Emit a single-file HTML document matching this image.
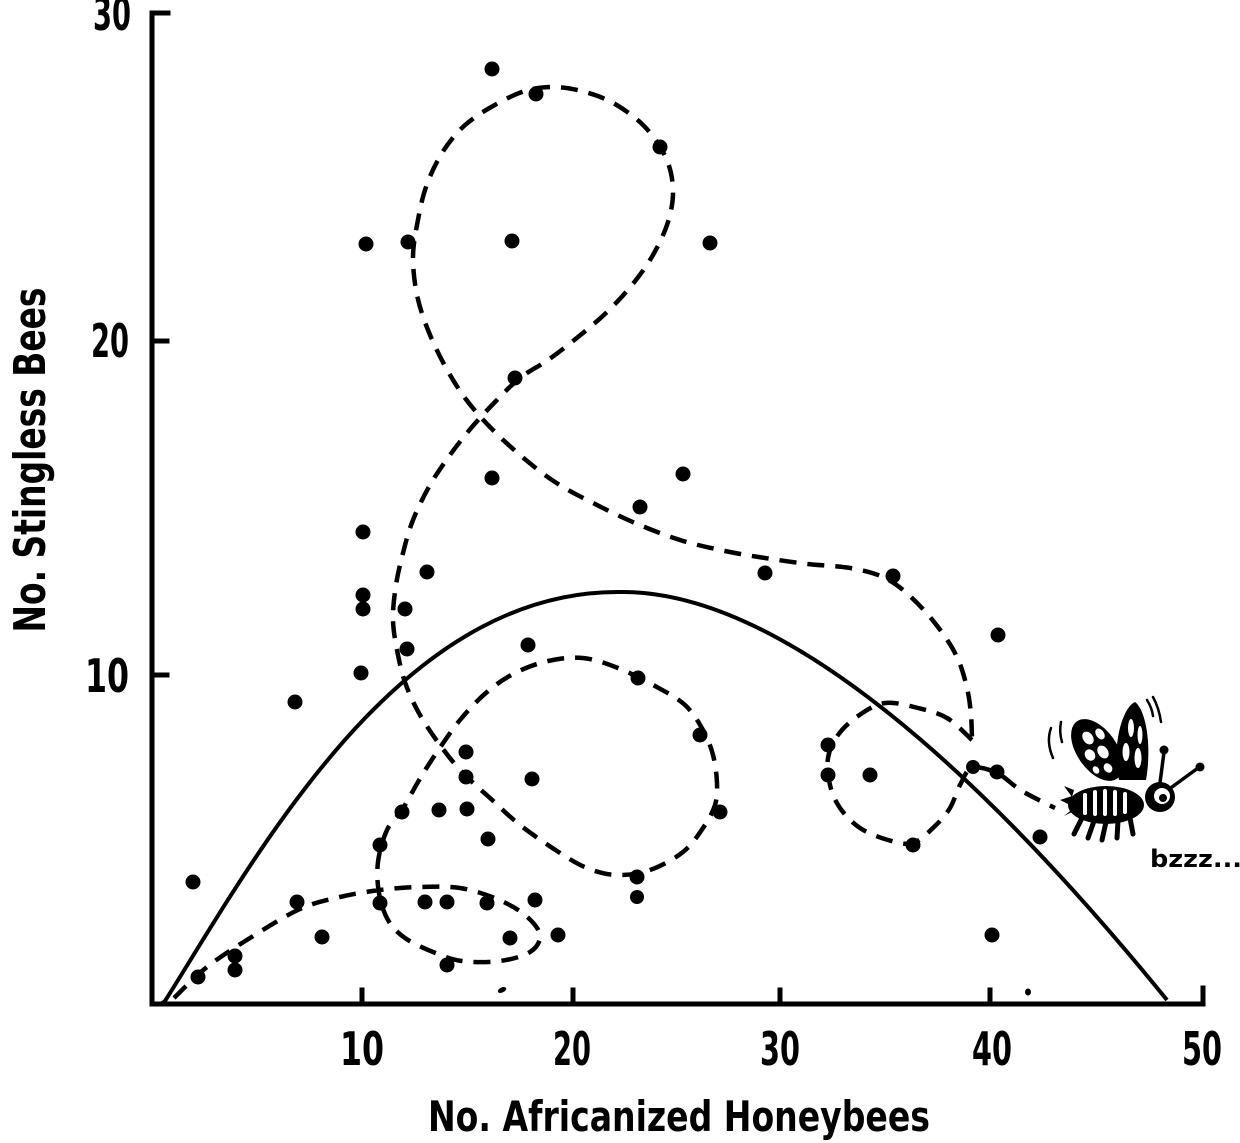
<!DOCTYPE html>
<html>
<head>
<meta charset="utf-8">
<style>
  html,body{margin:0;padding:0;background:#fff;}
  svg{display:block;}
  .lbl{font-family:"DejaVu Sans Condensed","DejaVu Sans","Liberation Sans",sans-serif;font-weight:bold;fill:#000;}
</style>
</head>
<body>
<svg id="chart" width="1240" height="1143" viewBox="0 0 1240 1143" xmlns="http://www.w3.org/2000/svg">
  <rect width="1240" height="1143" fill="#fff"/>

  <g stroke="#000" stroke-width="5" fill="none" stroke-linecap="square">
    <path d="M168,13 L152,13 L152,1004 L1203,1004 L1203,988"/>
    <path d="M152,341 L167,341"/>
    <path d="M152,675 L167,675"/>
    <path d="M362,1004 L362,990"/>
    <path d="M573,1004 L573,990"/>
    <path d="M780,1004 L780,990"/>
    <path d="M990,1004 L990,990"/>
  </g>

  <g class="lbl" font-size="46">
    <text x="131" y="30" text-anchor="end" textLength="38" lengthAdjust="spacingAndGlyphs">30</text>
    <text x="129" y="357" text-anchor="end" textLength="38" lengthAdjust="spacingAndGlyphs">20</text>
    <text x="129" y="692" text-anchor="end" textLength="44" lengthAdjust="spacingAndGlyphs">10</text>
    <text x="362" y="1065" text-anchor="middle" textLength="44" lengthAdjust="spacingAndGlyphs">10</text>
    <text x="572" y="1065" text-anchor="middle" textLength="38" lengthAdjust="spacingAndGlyphs">20</text>
    <text x="780" y="1065" text-anchor="middle" textLength="40" lengthAdjust="spacingAndGlyphs">30</text>
    <text x="992" y="1065" text-anchor="middle" textLength="40" lengthAdjust="spacingAndGlyphs">40</text>
    <text x="1202" y="1065" text-anchor="middle" textLength="40" lengthAdjust="spacingAndGlyphs">50</text>
  </g>

  <text class="lbl" font-size="42" x="679" y="1131" text-anchor="middle" textLength="502" lengthAdjust="spacingAndGlyphs">No. Africanized Honeybees</text>
  <text class="lbl" font-size="44" transform="translate(45,460) rotate(-90)" x="0" y="0" text-anchor="middle" textLength="345" lengthAdjust="spacingAndGlyphs">No. Stingless Bees</text>

  <path fill="none" stroke="#000" stroke-width="4" stroke-linejoin="round"
    d="M158,1004 C161,1004 163,1003 165,1001 C260,850 400,590 620,592 C780,590 980,770 1167,1000"/>

  <g fill="none" stroke="#000" stroke-width="4.5" stroke-dasharray="17 11">
    <path class="smooth"
      d="M174,998 L207,967 L250,938 L300,909 L340,897 L380,890 L420,887 L460,888 L497,899 L525,915 L540,935 L530,952 L500,961 L462,961 L433,952 L405,938 L388,920 L379,893 L378,862 L387,830 L402,810 L418,782 L435,755 L460,720 L487,692 L515,673 L548,661 L583,658 L618,668 L655,686 L685,705 L703,730 L713,755 L717,783 L715,805 L703,828 L683,852 L650,870 L617,875 L587,868 L557,851 L520,825 L490,798 L462,772 L440,745 L420,715 L406,685 L398,655 L393,620 L396,585 L403,553 L413,520 L430,485 L450,455 L472,427 L495,402 L520,378 L548,360 L578,337 L607,312 L632,285 L653,255 L668,222 L673,190 L666,158 L645,127 L615,104 L585,92 L555,87 L525,91 L493,106 L464,126 L442,153 L426,187 L417,225 L413,258 L417,295 L428,330 L445,366 L465,398 L490,427 L520,455 L555,482 L593,503 L635,523 L680,540 L725,551 L765,558 L808,564 L850,568 L885,578 L912,598 L938,627 L957,657 L967,688 L971,715 L972,740"/>
    <path class="smooth"
      d="M972,740 L947,718 L918,708 L885,703 L858,716 L838,735 L828,758 L830,785 L840,808 L860,828 L888,840 L913,843 L935,826 L950,808 L960,785 L972,768 L997,773 L1022,791 L1055,808"/>
  </g>

  <g fill="#000">
    <circle cx="492" cy="69" r="7.5"/>
    <circle cx="536" cy="94" r="7.5"/>
    <circle cx="660" cy="147" r="7.5"/>
    <circle cx="366" cy="244" r="7.5"/>
    <circle cx="408" cy="242" r="7.5"/>
    <circle cx="512" cy="241" r="7.5"/>
    <circle cx="710" cy="243" r="7.5"/>
    <circle cx="515" cy="378" r="7.5"/>
    <circle cx="492" cy="478" r="7.5"/>
    <circle cx="683" cy="474" r="7.5"/>
    <circle cx="640" cy="507" r="7.5"/>
    <circle cx="363" cy="532" r="7.5"/>
    <circle cx="427" cy="572" r="7.5"/>
    <circle cx="363" cy="595" r="7.5"/>
    <circle cx="363" cy="609" r="7.5"/>
    <circle cx="405" cy="609" r="7.5"/>
    <circle cx="407" cy="649" r="7.5"/>
    <circle cx="361" cy="673" r="7.5"/>
    <circle cx="295" cy="702" r="7.5"/>
    <circle cx="528" cy="645" r="7.5"/>
    <circle cx="638" cy="678" r="7.5"/>
    <circle cx="765" cy="573" r="7.5"/>
    <circle cx="893" cy="576" r="7.5"/>
    <circle cx="998" cy="635" r="7.5"/>
    <circle cx="700" cy="735" r="7.5"/>
    <circle cx="828" cy="745" r="7.5"/>
    <circle cx="828" cy="775" r="7.5"/>
    <circle cx="870" cy="775" r="7.5"/>
    <circle cx="466" cy="752" r="7.5"/>
    <circle cx="466" cy="777" r="7.5"/>
    <circle cx="532" cy="779" r="7.5"/>
    <circle cx="720" cy="812" r="7.5"/>
    <circle cx="402" cy="812" r="7.5"/>
    <circle cx="439" cy="810" r="7.5"/>
    <circle cx="467" cy="809" r="7.5"/>
    <circle cx="488" cy="839" r="7.5"/>
    <circle cx="380" cy="845" r="7.5"/>
    <circle cx="913" cy="845" r="7.5"/>
    <circle cx="973" cy="767" r="7"/>
    <circle cx="997" cy="772" r="7.5"/>
    <circle cx="1040" cy="837" r="7.5"/>
    <circle cx="637" cy="877" r="7.5"/>
    <circle cx="637" cy="897" r="7"/>
    <circle cx="193" cy="882" r="7.5"/>
    <circle cx="297" cy="902" r="7.5"/>
    <circle cx="380" cy="903" r="7.5"/>
    <circle cx="425" cy="902" r="7.5"/>
    <circle cx="447" cy="902" r="7.5"/>
    <circle cx="487" cy="903" r="7.5"/>
    <circle cx="535" cy="900" r="7.5"/>
    <circle cx="322" cy="937" r="7.5"/>
    <circle cx="510" cy="938" r="7.5"/>
    <circle cx="558" cy="935" r="7.5"/>
    <circle cx="235" cy="956" r="7.5"/>
    <circle cx="235" cy="970" r="7.5"/>
    <circle cx="447" cy="965" r="7.5"/>
    <circle cx="198" cy="977" r="7.5"/>
    <circle cx="992" cy="935" r="7.5"/>
    <ellipse cx="502" cy="990" rx="4.5" ry="2.5" transform="rotate(-25 502 990)"/>
    <ellipse cx="1028" cy="992" rx="3" ry="3.5"/>
  </g>

  <g>
    <g fill="none" stroke="#000" stroke-width="2.5" stroke-linecap="round">
      <path d="M1051,728 Q1046,742 1053,758"/>
      <path d="M1061,722 Q1059,732 1062,742"/>
      <path d="M1153,697 Q1159,708 1161,722"/>
      <path d="M1147,700 Q1152,708 1153,716"/>
    </g>
    <ellipse cx="1097" cy="750" rx="20" ry="35" transform="rotate(-35 1097 750)" fill="#000"/>
    <g fill="#fff">
      <ellipse cx="1088" cy="738" rx="5" ry="7" transform="rotate(-35 1088 738)"/>
      <ellipse cx="1100" cy="734" rx="4" ry="6" transform="rotate(-35 1100 734)"/>
      <ellipse cx="1090" cy="755" rx="5" ry="6" transform="rotate(-35 1090 755)"/>
      <ellipse cx="1103" cy="752" rx="5" ry="7" transform="rotate(-35 1103 752)"/>
      <ellipse cx="1108" cy="768" rx="4" ry="5" transform="rotate(-35 1108 768)"/>
      <ellipse cx="1096" cy="770" rx="3" ry="4" transform="rotate(-35 1096 770)"/>
    </g>
    <path d="M1119,780 C1111,742 1124,706 1135,702 C1146,710 1152,746 1146,780 Z" fill="#000"/>
    <g fill="#fff">
      <ellipse cx="1131" cy="728" rx="3" ry="9"/>
      <ellipse cx="1140" cy="735" rx="2.5" ry="9"/>
      <ellipse cx="1126" cy="752" rx="3.5" ry="9"/>
      <ellipse cx="1138" cy="758" rx="3.5" ry="10"/>
    </g>
    <ellipse cx="1106" cy="805" rx="38" ry="19" fill="#000"/>
    <g fill="#fff">
      <rect x="1083" y="793" width="4" height="22" rx="2"/>
      <rect x="1093" y="790" width="4" height="26" rx="2"/>
      <rect x="1103" y="789" width="4" height="27" rx="2"/>
      <rect x="1113" y="790" width="4" height="26" rx="2"/>
      <rect x="1123" y="792" width="4" height="22" rx="2"/>
    </g>
    <path d="M1072,796 L1060,800 L1072,806 Z M1074,790 L1064,786 L1072,797 Z M1074,811 L1064,816 L1074,808 Z" fill="#000"/>
    <g stroke="#000" stroke-width="5" stroke-linecap="round" fill="none">
      <path d="M1082,818 L1074,834"/>
      <path d="M1094,821 L1088,838"/>
      <path d="M1106,822 L1102,840"/>
      <path d="M1118,821 L1117,838"/>
      <path d="M1130,818 L1133,834"/>
    </g>
    <circle cx="1160" cy="797" r="15" fill="#000"/>
    <circle cx="1162" cy="796" r="8" fill="#fff"/>
    <circle cx="1163" cy="798" r="4" fill="#000"/>
    <g stroke="#000" stroke-width="3.5" fill="none" stroke-linecap="round">
      <path d="M1160,783 L1164,752"/>
      <path d="M1172,787 L1198,768"/>
    </g>
    <circle cx="1164" cy="750" r="4.5" fill="#000"/>
    <circle cx="1200" cy="767" r="4.5" fill="#000"/>
    <text x="1150" y="867" font-family="'DejaVu Sans','Liberation Sans',sans-serif" font-weight="bold" font-size="24" textLength="92" lengthAdjust="spacingAndGlyphs" fill="#000">bzzz...</text>
  </g>
</svg>
<script>
(function(){
  var paths=document.querySelectorAll('path.smooth');
  for(var k=0;k<paths.length;k++){
    var p=paths[k];
    var nums=p.getAttribute('d').match(/-?\d+(\.\d+)?/g).map(Number);
    var pts=[];
    for(var i=0;i+1<nums.length;i+=2)pts.push([nums[i],nums[i+1]]);
    var d='M'+pts[0][0]+','+pts[0][1];
    for(var j=0;j<pts.length-1;j++){
      var p0=pts[j-1]||pts[j],p1=pts[j],p2=pts[j+1],p3=pts[j+2]||pts[j+1];
      var c1x=p1[0]+(p2[0]-p0[0])/6,c1y=p1[1]+(p2[1]-p0[1])/6;
      var c2x=p2[0]-(p3[0]-p1[0])/6,c2y=p2[1]-(p3[1]-p1[1])/6;
      d+=' C'+c1x.toFixed(1)+','+c1y.toFixed(1)+' '+c2x.toFixed(1)+','+c2y.toFixed(1)+' '+p2[0]+','+p2[1];
    }
    p.setAttribute('d',d);
  }
})();
</script>
</body>
</html>
